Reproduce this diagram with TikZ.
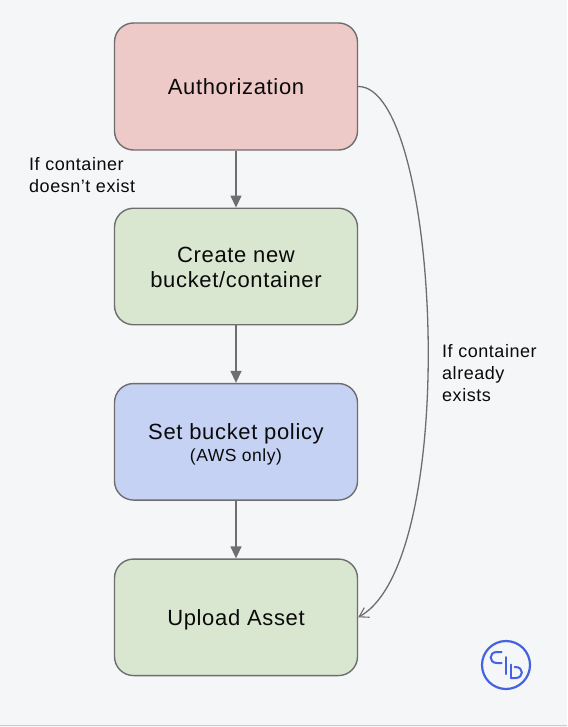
\documentclass[tikz,border=0pt]{standalone}
\usepackage{fontspec}
\setmainfont{Liberation Sans}[LetterSpace=3]
\usetikzlibrary{arrows.meta}
\definecolor{bgc}{HTML}{F5F6F8}
\definecolor{edgec}{HTML}{6E6E6E}
\definecolor{redc}{HTML}{EDC9C8}
\definecolor{greenc}{HTML}{D9E7D1}
\definecolor{bluec}{HTML}{C5D2F4}
\definecolor{logoc}{HTML}{4463E0}
\definecolor{textc}{HTML}{0A0A0A}
\tikzset{
  x=1pt,y=-1pt,
  stepbox/.style={draw=edgec,line width=1.4pt,rounded corners=19pt,minimum width=243pt,inner sep=0pt,align=center,font=\fontsize{22}{25}\selectfont,text=textc},
  lab/.style={align=left,anchor=west,inner sep=0pt,font=\fontsize{18}{22}\selectfont,text=textc},
  flow/.style={draw=edgec,line width=1.4pt,-{Triangle[length=12pt,width=11pt,fill=edgec]}},
  curve/.style={draw=edgec,line width=1.3pt,-{Straight Barb[length=9pt,width=11pt,line width=1.1pt]}},
  logoline/.style={draw=logoc,line width=2pt,line cap=round}
}
\begin{document}
\begin{tikzpicture}
\path[use as bounding box,fill=bgc] (0,0) rectangle (567,727);
\draw[draw=black!20,line width=1.2pt] (0,725.5) -- (567,725.5);
\node[stepbox,fill=redc,minimum height=127pt] (auth) at (236,86.5) {Authorization};
\node[stepbox,fill=greenc,minimum height=116.5pt] (create) at (236,266.5) {\rule{0pt}{18pt}Create new\\bucket/container};
\node[stepbox,fill=bluec,minimum height=116.5pt] (policy) at (236,441.8) {\rule{0pt}{22pt}Set bucket policy\\[-3pt]{\fontsize{17.5}{18}\selectfont (AWS only)}};
\node[stepbox,fill=greenc,minimum height=116.5pt,text height=16pt,text depth=0pt] (upload) at (236,617.3) {Upload Asset};
\draw[flow] (auth) -- (create);
\draw[flow] (create) -- (policy);
\draw[flow] (policy) -- (upload);
\draw[curve] (auth.east) .. controls (440,86) and (462,560) .. (upload.east);
\node[lab] (l1) at (29,175) {If container\\doesn’t exist};
\node[lab] (l2) at (442,373) {If container\\already\\exists};
\draw[draw=logoc,line width=2.2pt] (506,665) circle (24);
\draw[logoline] (501.5,652) -- (497,652) .. controls (488.5,652) and (488.5,663) .. (497,663) -- (501.5,663);
\draw[logoline] (511,678) -- (515.5,678) .. controls (524,678) and (524,667) .. (515.5,667) -- (514.5,667);
\draw[logoline] (505.5,657) -- (505.5,674);
\draw[logoline] (511,664.5) -- (511,678);
\end{tikzpicture}
\end{document}
